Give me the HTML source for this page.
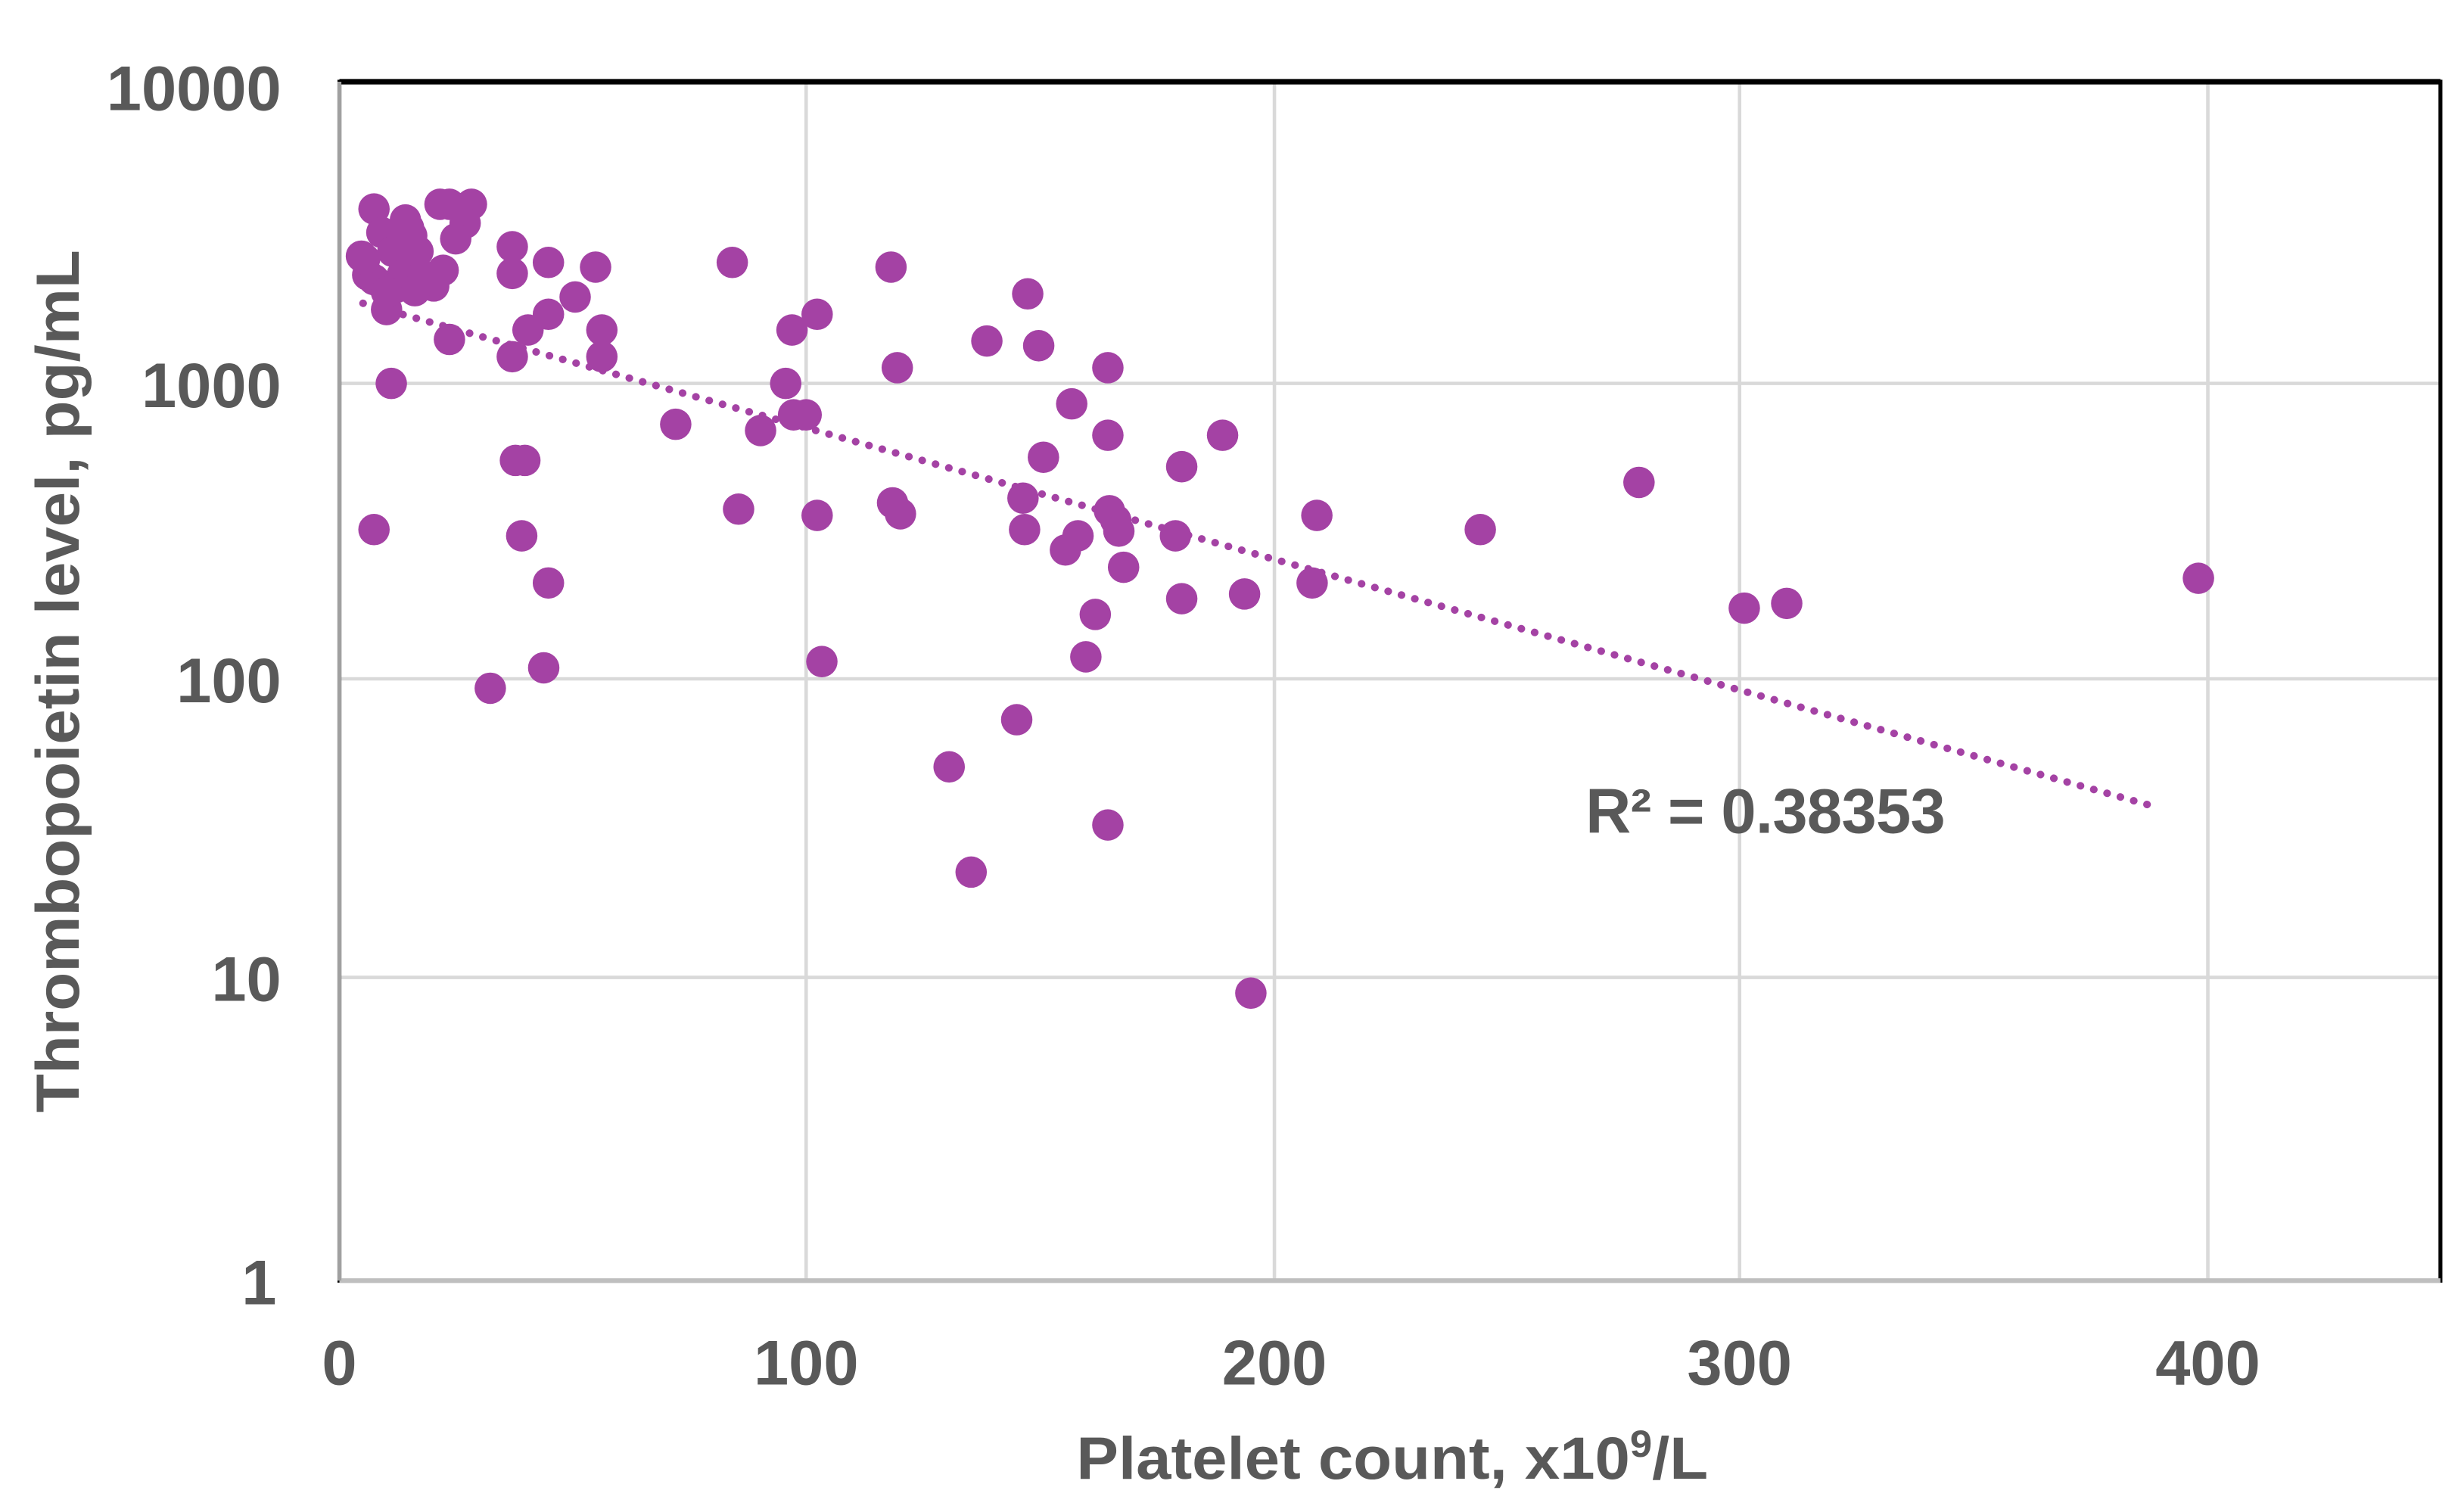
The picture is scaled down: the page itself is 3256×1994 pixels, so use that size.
<!DOCTYPE html>
<html><head><meta charset="utf-8"><style>
html,body{margin:0;padding:0;background:#fff;}
svg{display:block;}
text{font-family:"Liberation Sans",Arial,sans-serif;font-weight:bold;fill:#595959;}
</style></head><body>
<svg width="3256" height="1994" viewBox="0 0 1568 960.3" preserveAspectRatio="none" xmlns="http://www.w3.org/2000/svg">
<rect x="0" y="0" width="1568" height="960.3" fill="#fff"/>
<g stroke="#d9d9d9" stroke-width="2.2">
<line x1="513" y1="52" x2="513" y2="815"/>
<line x1="811" y1="52" x2="811" y2="815"/>
<line x1="1107" y1="52" x2="1107" y2="815"/>
<line x1="1405" y1="52" x2="1405" y2="815"/>
<line x1="216" y1="244" x2="1553" y2="244"/>
<line x1="216" y1="432" x2="1553" y2="432"/>
<line x1="216" y1="622" x2="1553" y2="622"/>
</g>
<rect x="216" y="52" width="1337" height="763" fill="none" stroke="#000" stroke-width="2.5"/>
<line x1="216" y1="52" x2="1553" y2="52" stroke="#000" stroke-width="3.5"/>
<line x1="216" y1="815" x2="1553" y2="815" stroke="#bfbfbf" stroke-width="3"/>
<line x1="216" y1="52" x2="216" y2="815" stroke="#a0a0a0" stroke-width="2.5"/>
<g font-size="40" text-anchor="end">
<text x="179" y="70">10000</text>
<text x="179" y="259">1000</text>
<text x="179" y="447">100</text>
<text x="179" y="637">10</text>
<text x="176" y="830">1</text>
</g>
<g font-size="40" text-anchor="middle">
<text x="216" y="881">0</text>
<text x="513" y="881">100</text>
<text x="811" y="881">200</text>
<text x="1107" y="881">300</text>
<text x="1405" y="881">400</text>
</g>
<text x="685" y="941" font-size="38" textLength="402" lengthAdjust="spacingAndGlyphs">Platelet count, x10<tspan font-size="24" dy="-14">9</tspan><tspan dy="14">/L</tspan></text>
<text transform="translate(50,708) rotate(-90)" font-size="39" textLength="549" lengthAdjust="spacingAndGlyphs">Thrombopoietin level, pg/mL</text>
<text x="1009" y="530" font-size="40" textLength="229">R² = 0.38353</text>
<line x1="231" y1="193" x2="1370" y2="513" stroke="#a442a4" stroke-width="4.8" stroke-linecap="round" stroke-dasharray="0.1 8.7"/>
<g fill="#a442a4">
<circle cx="238" cy="133" r="10"/><circle cx="230" cy="163" r="10"/><circle cx="238" cy="178" r="10"/><circle cx="246" cy="197" r="10"/><circle cx="249" cy="244" r="10"/><circle cx="238" cy="337" r="10"/><circle cx="243" cy="148" r="10"/><circle cx="250" cy="160" r="10"/><circle cx="258" cy="140" r="10"/><circle cx="262" cy="150" r="10"/><circle cx="256" cy="175" r="10"/><circle cx="268" cy="175" r="10"/><circle cx="280" cy="130" r="10"/><circle cx="286" cy="130" r="10"/><circle cx="300" cy="130" r="10"/><circle cx="296" cy="142" r="10"/><circle cx="290" cy="152" r="10"/><circle cx="282" cy="172" r="10"/><circle cx="276" cy="182" r="10"/><circle cx="286" cy="216" r="10"/><circle cx="260" cy="145" r="10"/><circle cx="252" cy="183" r="10"/><circle cx="264" cy="185" r="10"/><circle cx="272" cy="178" r="10"/><circle cx="234" cy="175" r="10"/><circle cx="246" cy="186" r="10"/><circle cx="266" cy="160" r="10"/><circle cx="232" cy="165" r="10"/>
<circle cx="326" cy="157" r="10"/><circle cx="326" cy="174" r="10"/><circle cx="326" cy="227" r="10"/><circle cx="349" cy="167" r="10"/><circle cx="379" cy="170" r="10"/><circle cx="336" cy="210" r="10"/><circle cx="349" cy="200" r="10"/><circle cx="366" cy="189" r="10"/><circle cx="383" cy="210" r="10"/><circle cx="383" cy="227" r="10"/><circle cx="328" cy="293" r="10"/><circle cx="334" cy="293" r="10"/><circle cx="332" cy="341" r="10"/><circle cx="349" cy="371" r="10"/><circle cx="312" cy="438" r="10"/><circle cx="346" cy="425" r="10"/><circle cx="430" cy="270" r="10"/><circle cx="466" cy="167" r="10"/><circle cx="470" cy="324" r="10"/><circle cx="484" cy="274" r="10"/><circle cx="500" cy="244" r="10"/><circle cx="504" cy="210" r="10"/><circle cx="505" cy="264" r="10"/><circle cx="513" cy="264" r="10"/><circle cx="520" cy="200" r="10"/><circle cx="520" cy="328" r="10"/><circle cx="523" cy="421" r="10"/><circle cx="567" cy="170" r="10"/><circle cx="571" cy="234" r="10"/><circle cx="568" cy="320" r="10"/><circle cx="573" cy="327" r="10"/><circle cx="604" cy="488" r="10"/><circle cx="618" cy="555" r="10"/><circle cx="628" cy="217" r="10"/><circle cx="647" cy="458" r="10"/><circle cx="651" cy="317" r="10"/><circle cx="652" cy="337" r="10"/><circle cx="654" cy="187" r="10"/><circle cx="661" cy="220" r="10"/><circle cx="664" cy="291" r="10"/><circle cx="678" cy="350" r="10"/><circle cx="682" cy="257" r="10"/><circle cx="686" cy="341" r="10"/><circle cx="697" cy="391" r="10"/><circle cx="705" cy="234" r="10"/><circle cx="705" cy="277" r="10"/><circle cx="706" cy="325" r="10"/><circle cx="705" cy="525" r="10"/><circle cx="710" cy="331" r="10"/><circle cx="712" cy="338" r="10"/><circle cx="715" cy="361" r="10"/><circle cx="691" cy="418" r="10"/><circle cx="752" cy="297" r="10"/><circle cx="752" cy="381" r="10"/><circle cx="748" cy="341" r="10"/><circle cx="778" cy="277" r="10"/><circle cx="792" cy="378" r="10"/><circle cx="796" cy="632" r="10"/><circle cx="835" cy="371" r="10"/><circle cx="838" cy="328" r="10"/><circle cx="942" cy="337" r="10"/><circle cx="1043" cy="307" r="10"/><circle cx="1110" cy="387" r="10"/><circle cx="1137" cy="384" r="10"/><circle cx="1399" cy="368" r="10"/>
</g>
</svg>
</body></html>
